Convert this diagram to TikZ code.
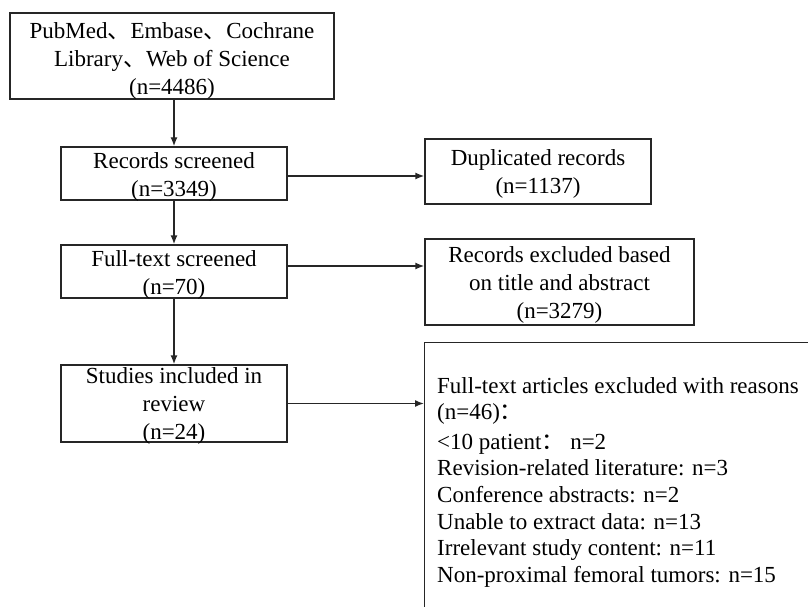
\documentclass[tikz,border=0pt]{standalone}
\usepackage{fontspec}
\setmainfont{Liberation Serif}
\newfontfamily\cjk{Noto Sans CJK SC}
\usetikzlibrary{arrows.meta}
\begin{document}
\begin{tikzpicture}[x=1pt,y=-1pt,
  box/.style={draw=black!85, line width=1.4pt, inner sep=0pt},
  boxtext/.style={inner sep=0pt, align=center,
    font=\fontsize{23}{28}\selectfont, text=black},
  arr/.style={draw=black!85, line width=1.4pt, -{Latex[length=9pt,width=7pt]}},
  listtext/.style={anchor=north west, align=left, inner sep=0pt,
    font=\fontsize{23}{26.6}\selectfont, text=black}]
\useasboundingbox (0,0) rectangle (808,607);
\clip (0,0) rectangle (808,607);
\node[box, minimum width=324pt, minimum height=86pt] (src) at (172,56) {};
\node[boxtext] (srcT) at ([yshift=-4.5pt]src.center)
  {PubMed{\cjk 、}Embase{\cjk 、}Cochrane\\Library{\cjk 、}Web of Science\\(n=4486)};
\node[box, minimum width=226pt, minimum height=53pt] (scr) at (174,173.5) {};
\node[boxtext] (scrT) at ([yshift=-3pt]scr.center) {Records screened\\(n=3349)};
\node[box, minimum width=226pt, minimum height=65pt] (dup) at (538,171.5) {};
\node[boxtext] (dupT) at ([yshift=-2pt]dup.center) {Duplicated records\\(n=1137)};
\node[box, minimum width=226pt, minimum height=53pt] (full) at (174,271.5) {};
\node[boxtext] (fullT) at ([yshift=-3pt]full.center) {Full-text screened\\(n=70)};
\node[box, minimum width=269pt, minimum height=86pt] (excl) at (559.5,282) {};
\node[boxtext] (exclT) at ([yshift=-3pt]excl.center)
  {Records excluded based\\on title and abstract\\(n=3279)};
\node[box, minimum width=226pt, minimum height=77pt] (inc) at (174,403.5) {};
\node[boxtext] (incT) at ([yshift=-2.5pt]inc.center)
  {Studies included in\\review\\(n=24)};
\node[box, anchor=north west, minimum width=420pt, minimum height=300pt] (fx) at (424,342) {};
\node[listtext] (reasons) at (437,377)
  {Full-text articles excluded with reasons\\
   (n=46){\cjk ：}\\[3pt]
   <10 patient{\cjk ：} n=2\\
   Revision-related literature: n=3\\
   Conference abstracts: n=2\\
   Unable to extract data: n=13\\
   Irrelevant study content: n=11\\
   Non-proximal femoral tumors: n=15};
\draw[arr] (src.south -| scr.north) -- (scr.north);
\draw[arr] (scr.south) -- (full.north);
\draw[arr] (full.south) -- (inc.north);
\draw[arr] ([yshift=-2.5pt]scr.east) -- ([yshift=-2.5pt]scr.east -| dup.west);
\draw[arr] ([yshift=5.5pt]full.east) -- ([yshift=5.5pt]full.east -| excl.west);
\draw[arr] (inc.east) -- (inc.east -| fx.west);
\end{tikzpicture}
\end{document}
